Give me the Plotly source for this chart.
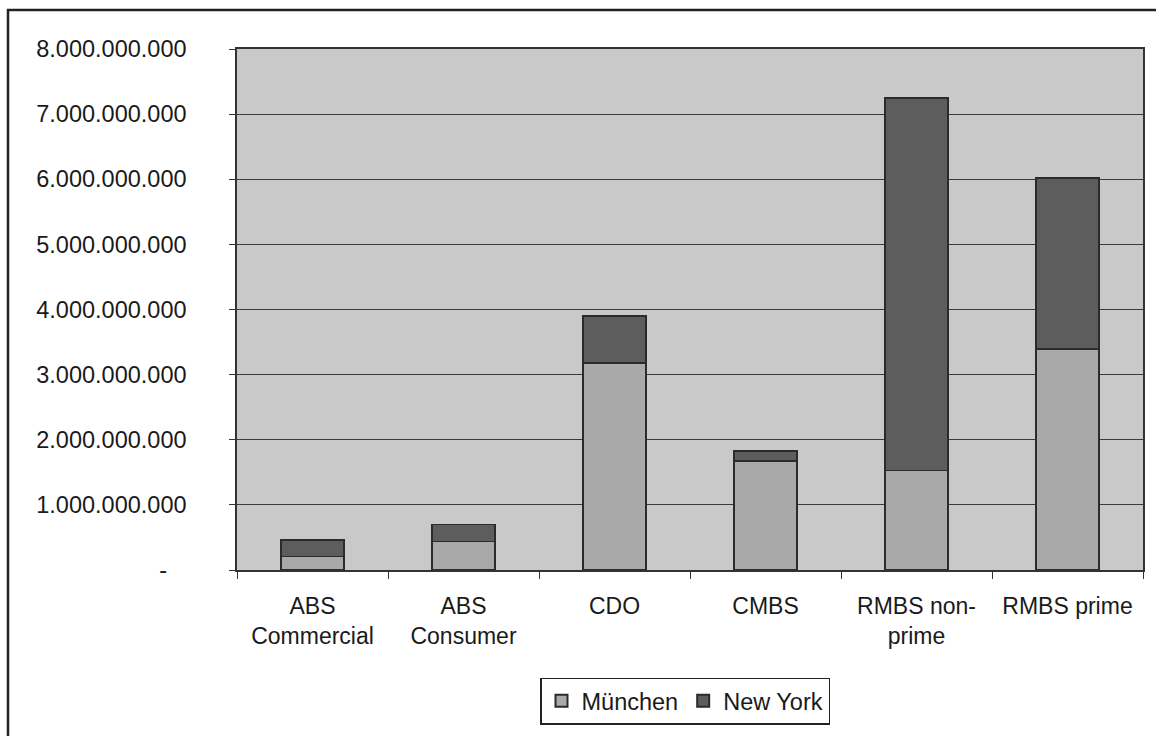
import plotly.graph_objects as go

# Stacked volumes by asset class and location
categories = ["ABS Commercial", "ABS Consumer", "CDO", "CMBS", "RMBS non-prime", "RMBS prime"]
category_labels = ["ABS<br>Commercial", "ABS<br>Consumer", "CDO", "CMBS", "RMBS non-<br>prime", "RMBS prime"]
muenchen = [210_000_000, 440_000_000, 3_180_000_000, 1_670_000_000, 1_530_000_000, 3_390_000_000]
new_york = [250_000_000, 260_000_000, 720_000_000, 160_000_000, 5_720_000_000, 2_630_000_000]

y_ticks = [i * 1_000_000_000 for i in range(0, 9)]
y_tick_text = ["-\u00a0\u00a0\u00a0" if v == 0 else f"{v:,}".replace(",", ".") for v in y_ticks]

FONT = "Liberation Sans, Arial, sans-serif"
INK = "#1a1a1a"

W, H = 1156, 736
L, R, T, B = 237, 13, 49, 154
pw, ph = W - L - R, H - T - B


def px_x(p):
    return (p - L) / pw


def px_y(p):
    return (H - B - p) / ph


fig = go.Figure()
fig.add_trace(go.Bar(
    name="München", x=categories, y=muenchen,
    marker=dict(color="#a9a9a9", line=dict(color="#2b2b2b", width=1.5)),
))
fig.add_trace(go.Bar(
    name="New York", x=categories, y=new_york,
    marker=dict(color="#5d5d5d", line=dict(color="#2b2b2b", width=1.5)),
))

# outer chart frame: only the top and left edges fall inside the page
fig.add_shape(type="rect", xref="paper", yref="paper",
              x0=px_x(8), x1=px_x(1300), y0=px_y(900), y1=px_y(9),
              line=dict(color="#222222", width=2.5), layer="below")

fig.update_layout(
    width=W, height=H,
    margin=dict(l=L, r=R, t=T, b=B, pad=0),
    barmode="stack",
    bargap=0.58,
    paper_bgcolor="white",
    plot_bgcolor="#c9c9c9",
    font=dict(family=FONT, size=23.5, color=INK),
    showlegend=True,
    legend=dict(
        orientation="h",
        x=px_x(685), xanchor="center",
        y=px_y(692), yanchor="top",
        bgcolor="white",
        bordercolor="#222222", borderwidth=1.5,
        font=dict(family=FONT, size=23.5, color=INK),
        itemsizing="constant",
        traceorder="normal",
        itemwidth=30,
    ),
    xaxis=dict(
        type="category",
        tickvals=categories,
        ticktext=category_labels,
        tickson="boundaries",
        ticks="outside", ticklen=7, tickcolor="#333333", tickwidth=1.2,
        showgrid=False,
        showline=True, linecolor="#333333", linewidth=1.5, mirror=True,
        tickfont=dict(family=FONT, size=23, color=INK),
        ticklabelstandoff=15,
    ),
    yaxis=dict(
        range=[0, 8_000_000_000],
        tickvals=y_ticks,
        ticktext=y_tick_text,
        ticks="outside", ticklen=6, tickcolor="#333333", tickwidth=1.2,
        showgrid=True, gridcolor="#3a3a3a", gridwidth=1.2,
        showline=True, linecolor="#333333", linewidth=1.5, mirror=True,
        zeroline=False,
        tickfont=dict(family=FONT, size=23.5, color=INK),
        ticklabelstandoff=38,
    ),
)

fig.write_html("out.html")
